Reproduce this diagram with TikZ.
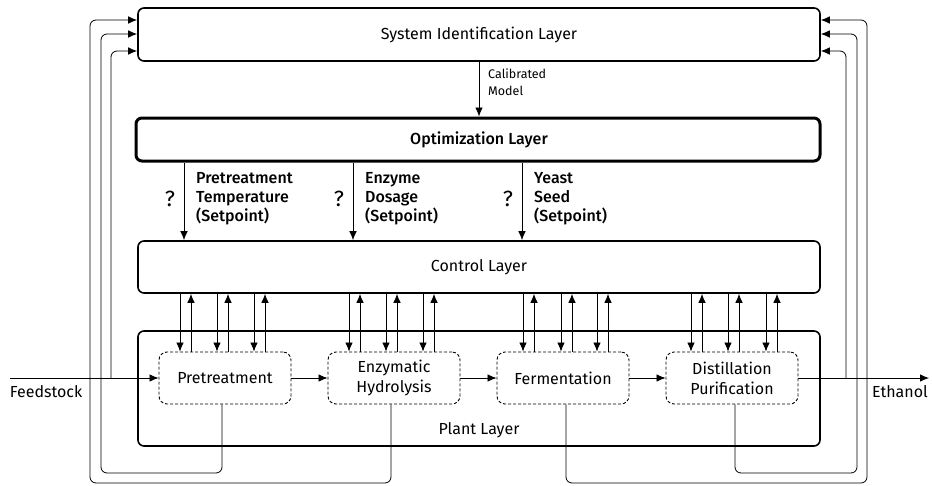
\documentclass[tikz,border=0pt]{standalone}
\usepackage{fontspec}
\setmainfont{Fira Sans}
\newfontfamily\medfont{Fira Sans Medium}
\usetikzlibrary{arrows.meta,calc}
\begin{document}
\begin{tikzpicture}[x=1pt,y=-1pt,
  font=\fontsize{16}{20}\selectfont,
  layer/.style={draw, line width=1.6pt, rounded corners=6pt, inner sep=0pt},
  proc/.style={draw, dash pattern=on 3pt off 2pt, line width=0.9pt, rounded corners=8pt,
    minimum width=132pt, minimum height=52pt, align=center, inner sep=0pt},
  conn/.style={line width=0.8pt, -{Latex[length=9pt,width=7.5pt]}},
  fb/.style={conn, rounded corners=6pt},
  lbl/.style={align=left, inner sep=0pt, anchor=north west}
]
\useasboundingbox (0,0) rectangle (932,485);

% layers
\node[layer, minimum width=682pt, minimum height=53pt] (sysid) at (479,34.5) {};
\node at (479,35) {System Identification Layer};
\node[layer, line width=3pt, minimum width=684pt, minimum height=43pt] (opt) at (478,139.5) {};
\node at (479,140) {\medfont Optimization Layer};
\node[layer, minimum width=682pt, minimum height=52pt] (ctrl) at (479,267) {};
\node at (479,267) {Control Layer};
\node[layer, minimum width=682pt, minimum height=115pt] (plant) at (479,388.5) {};
\node at (479,430) {Plant Layer};

% processes
\node[proc] (pre) at (225,378) {Pretreatment};
\node[proc] (hyd) at (394,378) {Enzymatic\\Hydrolysis};
\node[proc] (fer) at (563,378) {Fermentation};
\node[proc] (dis) at (732,378) {Distillation\\Purification};

% process chain
\coordinate (fs) at (10,378);
\coordinate (et) at (929,378);
\draw[conn] (fs) -- (pre.west);
\draw[conn] (pre.east) -- (hyd.west);
\draw[conn] (hyd.east) -- (fer.west);
\draw[conn] (fer.east) -- (dis.west);
\draw[conn] (dis.east) -- (et);
\node[inner sep=0pt] (fslbl) at (46,392) {Feedstock};
\node[inner sep=0pt] (etlbl) at (900,392) {Ethanol};

% calibrated model
\draw[conn] (sysid.south) -- (sysid.south |- opt.north);
\node[lbl, font=\fontsize{12.5}{17}\selectfont] (calib) at (488,69) {Calibrated\\Model};

% setpoints
\foreach \x/\t [count=\i] in {184/{Pretreatment\\Temperature\\(Setpoint)}, 353/{Enzyme\\Dosage\\(Setpoint)}, 522/{Yeast\\Seed\\(Setpoint)}} {
  \coordinate (sp\i) at (\x,140);
  \draw[conn] (sp\i |- opt.south) -- (sp\i |- ctrl.north);
  \node[lbl, font=\fontsize{16}{19}\selectfont\medfont] (spl\i) at (\x+12,172) {\t};
  \node[font=\fontsize{22}{22}\selectfont] (q\i) at (\x-14,199) {?};
}

% control <-> plant
\foreach \n/\dl in {pre/{-45,-8,29}, hyd/{-45,-8,29}, fer/{-40,-2,34}, dis/{-41,-4,34}} {
  \foreach \o in \dl {
    \coordinate (dn) at ([xshift=\o pt]\n.north);
    \coordinate (up) at ([xshift=\o pt+11pt]\n.north);
    \draw[conn] (dn |- ctrl.south) -- (dn);
    \draw[conn] (up) -- (up |- ctrl.south);
  }
}

% feedback to system identification
\coordinate (j1) at (111,378);
\coordinate (j2) at (846,378);
\draw[fb] (j1) |- ([yshift=-16.5pt]sysid.west);
\draw[fb] ([xshift=-3pt]pre.south) |- (101,473) |- ([yshift=0.5pt]sysid.west);
\draw[fb] ([xshift=-3pt]hyd.south) |- (90,483) |- ([yshift=14.5pt]sysid.west);
\draw[fb] (j2) |- ([yshift=-16.5pt]sysid.east);
\draw[fb] ([xshift=3pt]dis.south) |- (857,473) |- ([yshift=0.5pt]sysid.east);
\draw[fb] ([xshift=3pt]fer.south) |- (867,483) |- ([yshift=14.5pt]sysid.east);
\end{tikzpicture}
\end{document}
